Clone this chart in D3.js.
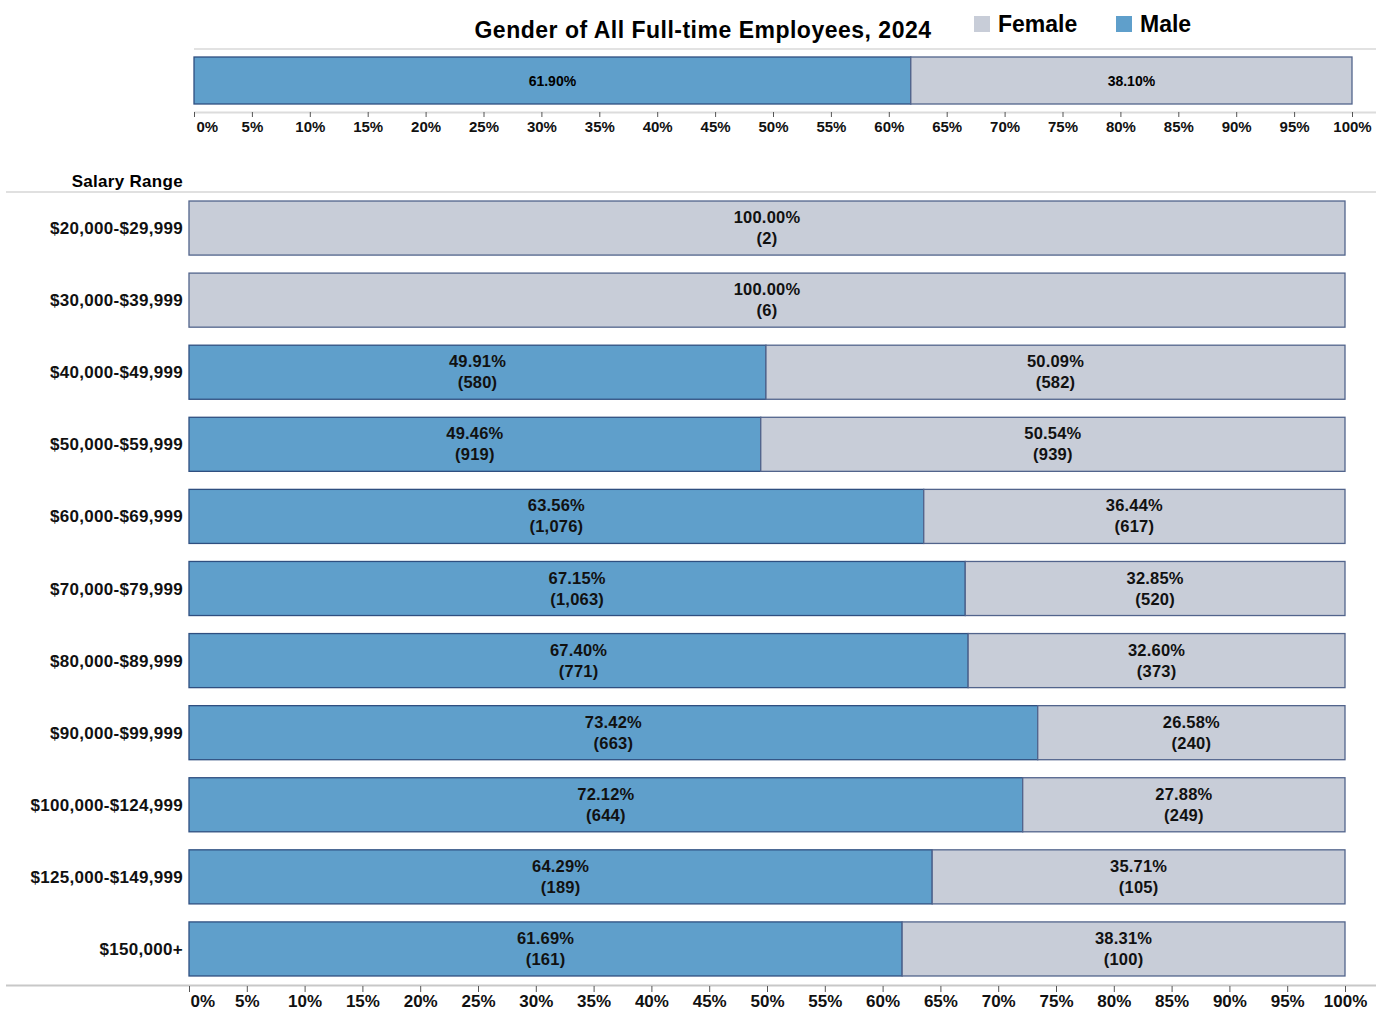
<!DOCTYPE html>
<html>
<head>
<meta charset="utf-8">
<script src="https://cdn.jsdelivr.net/npm/d3@7"></script>
<style>
  body { margin: 0; background: #fff; }
  text { font-family: "Liberation Sans", Arial, sans-serif; }
</style>
</head>
<body>
<script>
'use strict';

// overall split
const overallGroups = ["Male", "Female"];
const overallPct = [61.90, 38.10];

// by salary range
const ranges = ["$20,000-$29,999", "$30,000-$39,999", "$40,000-$49,999", "$50,000-$59,999",
  "$60,000-$69,999", "$70,000-$79,999", "$80,000-$89,999", "$90,000-$99,999",
  "$100,000-$124,999", "$125,000-$149,999", "$150,000+"];
const malePct = [0, 0, 49.91, 49.46, 63.56, 67.15, 67.40, 73.42, 72.12, 64.29, 61.69];
const maleCount = [0, 0, 580, 919, 1076, 1063, 771, 663, 644, 189, 161];
const femalePct = [100, 100, 50.09, 50.54, 36.44, 32.85, 32.60, 26.58, 27.88, 35.71, 38.31];
const femaleCount = [2, 6, 582, 939, 617, 520, 373, 240, 249, 105, 100];

const ticks = d3.range(0, 101, 5);

const colors = { Male: "#5f9fcb", Female: "#c8cdd8" };
const strokes = { Male: "#2f4f80", Female: "#52648c" };

let width = 1380,
    height = 1011,
    svg = d3.select("body").append("svg")
            .attr("width", width)
            .attr("height", height);

// ---- title + legend
svg.append("text")
    .attr("x", 703).attr("y", 38)
    .attr("text-anchor", "middle")
    .style("font-size", "23px").style("font-weight", "bold")
    .style("letter-spacing", "0.5px")
    .text("Gender of All Full-time Employees, 2024");

const legend = [["Female", 974], ["Male", 1116]];
legend.forEach(([k, x]) => {
  svg.append("rect").attr("x", x).attr("y", 16).attr("width", 16).attr("height", 16)
      .style("fill", colors[k]);
  svg.append("text")
      .attr("x", x + 24).attr("y", 32)
      .style("font-size", "23px").style("font-weight", "bold")
      .text(k);
});

// ---- top overall bar
const xTop = d3.scaleLinear().domain([0, 100]).range([194, 1352]);

svg.append("line")
    .attr("x1", 194).attr("x2", 1376).attr("y1", 49).attr("y2", 49)
    .style("stroke", "#e2e2e2").style("stroke-width", 2);

let cum = 0;
const topSegs = overallGroups.map((g, i) => {
  const s = { g, start: cum, v: overallPct[i] };
  cum += overallPct[i];
  return s;
});

svg.selectAll("rect.top").data(topSegs).enter().append("rect")
    .attr("class", "top")
    .attr("x", d => xTop(d.start))
    .attr("y", 57)
    .attr("width", d => xTop(d.start + d.v) - xTop(d.start))
    .attr("height", 47)
    .style("fill", d => colors[d.g])
    .style("stroke", d => strokes[d.g])
    .style("stroke-width", 1.3);

svg.selectAll("text.topLbl").data(topSegs).enter().append("text")
    .attr("class", "topLbl")
    .attr("x", d => xTop(d.start + d.v / 2))
    .attr("y", 86)
    .attr("text-anchor", "middle")
    .style("font-size", "14px").style("font-weight", "bold")
    .text(d => d.v.toFixed(2) + "%");

const topAxis = svg.append("g")
    .attr("transform", "translate(0,112)")
    .call(d3.axisBottom(xTop).tickValues(ticks).tickSize(5).tickPadding(4).tickFormat(d => d + "%"));
topAxis.select(".domain").style("stroke", "#dcdcdc").style("stroke-width", 2).attr("d", "M194,0.5H1376");
topAxis.selectAll(".tick line").style("stroke", "#555");
topAxis.selectAll(".tick text")
    .style("font-size", "15px").style("font-weight", "bold").style("fill", "#111")
    .attr("text-anchor", d => d === 0 ? "start" : "middle")
    .attr("dx", d => d === 0 ? 2 : 0);

// ---- main chart
const x = d3.scaleLinear().domain([0, 100]).range([189, 1345]);
const y = d3.scaleBand().domain(ranges).range([192, 985]).paddingInner(0.25).paddingOuter(0.125);

svg.append("text")
    .attr("x", 183).attr("y", 187)
    .attr("text-anchor", "end")
    .style("font-size", "17px").style("font-weight", "bold")
    .style("letter-spacing", "0.3px")
    .text("Salary Range");

svg.append("line")
    .attr("x1", 6).attr("x2", 1376).attr("y1", 192).attr("y2", 192)
    .style("stroke", "#d6d6d6").style("stroke-width", 1.5);

const rows = ranges.map((r, i) => [
  { r, g: "Male", start: 0, v: malePct[i], n: maleCount[i] },
  { r, g: "Female", start: malePct[i], v: femalePct[i], n: femaleCount[i] }
]).flat().filter(d => d.v > 0);

svg.selectAll("rect.bar").data(rows).enter().append("rect")
    .attr("class", "bar")
    .attr("x", d => x(d.start))
    .attr("y", d => y(d.r))
    .attr("width", d => x(d.start + d.v) - x(d.start))
    .attr("height", y.bandwidth())
    .style("fill", d => colors[d.g])
    .style("stroke", d => strokes[d.g])
    .style("stroke-width", 1.3);

const lbl = svg.selectAll("g.lbl").data(rows).enter().append("g")
    .attr("class", "lbl")
    .attr("transform", d => `translate(${x(d.start + d.v / 2)},${y(d.r) + y.bandwidth() / 2})`);
lbl.append("text")
    .attr("y", -5).attr("text-anchor", "middle")
    .style("font-size", "16.5px").style("font-weight", "bold").style("fill", "#111")
    .style("letter-spacing", "0.2px")
    .text(d => d.v.toFixed(2) + "%");
lbl.append("text")
    .attr("y", 16).attr("text-anchor", "middle")
    .style("font-size", "16.5px").style("font-weight", "bold").style("fill", "#111")
    .style("letter-spacing", "0.2px")
    .text(d => "(" + d3.format(",")(d.n) + ")");

svg.selectAll("text.cat").data(ranges).enter().append("text")
    .attr("class", "cat")
    .attr("x", 183)
    .attr("y", d => y(d) + y.bandwidth() / 2 + 6)
    .attr("text-anchor", "end")
    .style("font-size", "17px").style("font-weight", "bold").style("fill", "#111")
    .style("letter-spacing", "0.3px")
    .text(d => d);

const axis = svg.append("g")
    .attr("transform", "translate(0,986)")
    .call(d3.axisBottom(x).tickValues(ticks).tickSize(6).tickPadding(3).tickFormat(d => d + "%"));
axis.select(".domain").style("stroke", "#c8c8c8").style("stroke-width", 2).attr("d", "M6,-0.5H1376");
axis.selectAll(".tick line").style("stroke", "#555");
axis.selectAll(".tick text")
    .style("font-size", "17px").style("font-weight", "bold").style("fill", "#111")
    .attr("text-anchor", d => d === 0 ? "start" : "middle")
    .attr("dx", d => d === 0 ? 1 : 0);
</script>
</body>
</html>
